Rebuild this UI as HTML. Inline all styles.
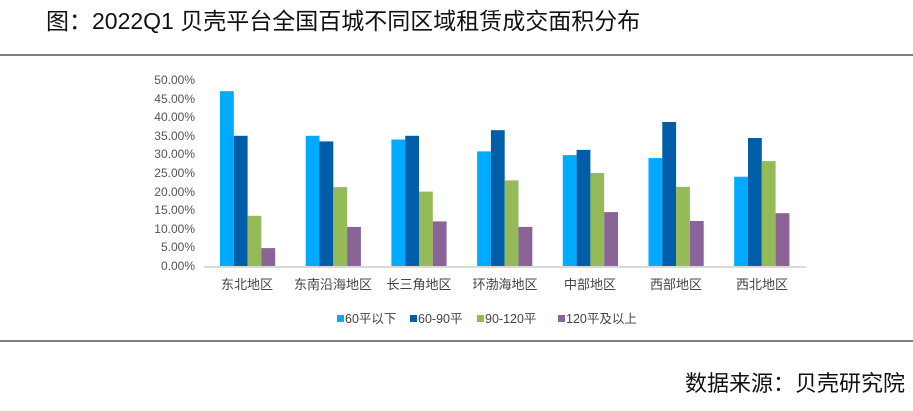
<!DOCTYPE html>
<html><head><meta charset="utf-8"><style>
body{margin:0;width:913px;height:406px;background:#fff;overflow:hidden;font-family:"Liberation Sans","Noto Sans CJK SC",sans-serif;}
</style></head><body>
<svg width="913" height="406" xmlns="http://www.w3.org/2000/svg" font-family="Liberation Sans, Noto Sans CJK SC, sans-serif">
<text x="46" y="29" font-size="23" fill="#111">图：2022Q1 贝壳平台全国百城不同区域租赁成交面积分布</text>
<line x1="0" y1="55" x2="913" y2="55" stroke="#555" stroke-width="1.5"/>
<line x1="0" y1="341" x2="913" y2="341" stroke="#555" stroke-width="1.5"/>
<text x="905" y="391" font-size="22" fill="#111" text-anchor="end">数据来源：贝壳研究院</text>
<g font-size="12" fill="#555" text-anchor="end">
<text x="195" y="270">0.00%</text><text x="195" y="251">5.00%</text><text x="195" y="233">10.00%</text><text x="195" y="214">15.00%</text><text x="195" y="196">20.00%</text><text x="195" y="177">25.00%</text><text x="195" y="158">30.00%</text><text x="195" y="140">35.00%</text><text x="195" y="121">40.00%</text><text x="195" y="103">45.00%</text><text x="195" y="84">50.00%</text>
</g>
<g>
<rect x="220" y="91.2" width="13.8" height="174.8" fill="#00aaff"/>
<rect x="233.8" y="135.8" width="13.8" height="130.2" fill="#005ea8"/>
<rect x="247.6" y="215.8" width="13.8" height="50.2" fill="#94bb58"/>
<rect x="261.4" y="248.1" width="13.8" height="17.9" fill="#8a6499"/>
<rect x="305.7" y="135.8" width="13.8" height="130.2" fill="#00aaff"/>
<rect x="319.5" y="141.4" width="13.8" height="124.6" fill="#005ea8"/>
<rect x="333.3" y="187.1" width="13.8" height="78.9" fill="#94bb58"/>
<rect x="347.1" y="226.9" width="13.8" height="39.1" fill="#8a6499"/>
<rect x="391.4" y="139.5" width="13.8" height="126.5" fill="#00aaff"/>
<rect x="405.2" y="135.8" width="13.8" height="130.2" fill="#005ea8"/>
<rect x="419" y="191.6" width="13.8" height="74.4" fill="#94bb58"/>
<rect x="432.8" y="221.4" width="13.8" height="44.6" fill="#8a6499"/>
<rect x="477.1" y="151.4" width="13.8" height="114.6" fill="#00aaff"/>
<rect x="490.9" y="130.2" width="13.8" height="135.8" fill="#005ea8"/>
<rect x="504.7" y="180.4" width="13.8" height="85.6" fill="#94bb58"/>
<rect x="518.5" y="226.9" width="13.8" height="39.1" fill="#8a6499"/>
<rect x="562.8" y="155.1" width="13.8" height="110.9" fill="#00aaff"/>
<rect x="576.6" y="149.9" width="13.8" height="116.1" fill="#005ea8"/>
<rect x="590.4" y="173" width="13.8" height="93" fill="#94bb58"/>
<rect x="604.2" y="212.1" width="13.8" height="53.9" fill="#8a6499"/>
<rect x="648.5" y="158.1" width="13.8" height="107.9" fill="#00aaff"/>
<rect x="662.3" y="122" width="13.8" height="144" fill="#005ea8"/>
<rect x="676.1" y="186.8" width="13.8" height="79.2" fill="#94bb58"/>
<rect x="689.9" y="221" width="13.8" height="45" fill="#8a6499"/>
<rect x="734.2" y="176.7" width="13.8" height="89.3" fill="#00aaff"/>
<rect x="748" y="138" width="13.8" height="128" fill="#005ea8"/>
<rect x="761.8" y="161.1" width="13.8" height="104.9" fill="#94bb58"/>
<rect x="775.6" y="213.2" width="13.8" height="52.8" fill="#8a6499"/>
</g>
<line x1="204" y1="267" x2="806" y2="267" stroke="#d9d9d9" stroke-width="2"/>
<g font-size="13" fill="#444" text-anchor="middle">
<text x="247" y="289">东北地区</text><text x="333" y="289">东南沿海地区</text><text x="419" y="289">长三角地区</text><text x="505" y="289">环渤海地区</text><text x="590" y="289">中部地区</text><text x="676" y="289">西部地区</text><text x="762" y="289">西北地区</text>
</g>
<g font-size="12.5" fill="#444">
<rect x="337" y="315" width="7" height="7" fill="#00aaff"/><text x="345" y="323">60平以下</text>
<rect x="410" y="315" width="7" height="7" fill="#005ea8"/><text x="418" y="323">60-90平</text>
<rect x="477" y="315" width="7" height="7" fill="#94bb58"/><text x="485" y="323">90-120平</text>
<rect x="558" y="315" width="7" height="7" fill="#8a6499"/><text x="566" y="323">120平及以上</text>
</g>
</svg>
</body></html>
